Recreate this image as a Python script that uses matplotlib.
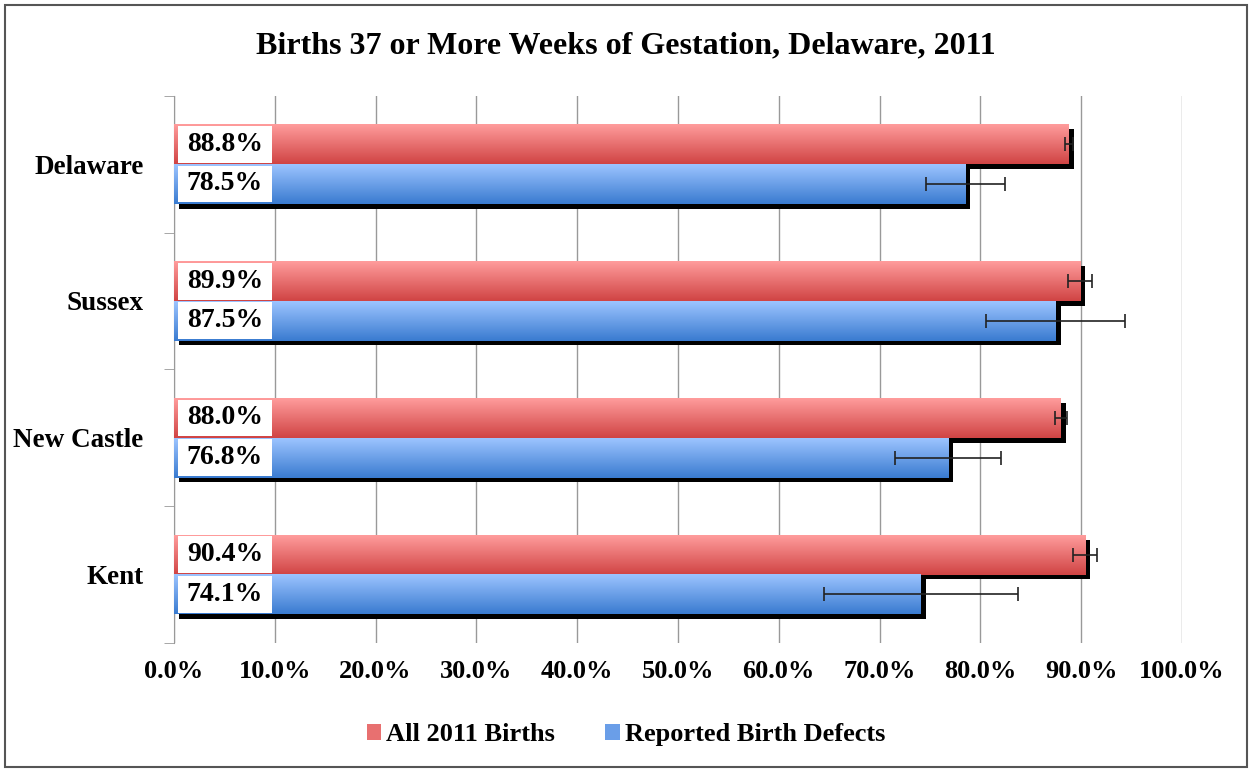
import numpy as np
import matplotlib.pyplot as plt
from matplotlib.patches import Rectangle

plt.rcParams['font.family'] = ['Liberation Serif', 'DejaVu Serif']
plt.rcParams['font.weight'] = 'bold'

# -------- data --------
regions = ['Delaware', 'Sussex', 'New Castle', 'Kent']
all_births = [88.8, 89.9, 88.0, 90.4]
all_births_err = [0.4, 1.2, 0.6, 1.2]
defects = [78.5, 87.5, 76.8, 74.1]
defects_err = [3.9, 6.9, 5.3, 9.6]
series_names = ['All 2011 Births', 'Reported Birth Defects']
x_ticks = [0, 10, 20, 30, 40, 50, 60, 70, 80, 90, 100]

red_top, red_bot = '#ff9c9c', '#d04444'
blue_top, blue_bot = '#9cc4ff', '#3a7bd0'


def gradient(c_top, c_bot, n=64):
    a = np.array(plt.matplotlib.colors.to_rgb(c_top))
    b = np.array(plt.matplotlib.colors.to_rgb(c_bot))
    t = np.linspace(0, 1, n)[:, None]
    return (a * (1 - t) + b * t)[:, None, :]


fig = plt.figure(figsize=(12.52, 7.72), dpi=100)
ax = fig.add_axes([0.139, 0.167, 0.805, 0.709])

n = len(regions)
h = 0.29  # bar height in category units
dx, dy = 0.5, 0.035  # shadow offset

for i in range(n):
    yc = n - 1 - i  # Delaware on top
    for j, (vals, errs, ct, cb) in enumerate([(all_births, all_births_err, red_top, red_bot),
                                              (defects, defects_err, blue_top, blue_bot)]):
        v = vals[i]
        y0 = yc - j * h  # red above, blue below the centre
        # shadow
        ax.add_patch(Rectangle((dx, y0 - dy), v, h, fc='black', ec='none', zorder=2))
        # gradient bar
        ax.imshow(gradient(ct, cb), extent=(0, v, y0, y0 + h), aspect='auto',
                  origin='upper', zorder=3, interpolation='bilinear')
        ax.errorbar(v, y0 + h / 2, xerr=errs[i], fmt='none', ecolor='#222222',
                    elinewidth=1.2, capsize=5, capthick=1.2, zorder=5)
        # white label box at the base of the bar
        ax.add_patch(Rectangle((0.4, y0 + 0.01), 9.3, h - 0.02, fc='white', ec='none', zorder=6))
        ax.text(5.05, y0 + h / 2, f'{v:.1f}%', fontsize=20, fontweight='bold',
                va='center', ha='center', zorder=7)

ax.set_xlim(0, 100)
ax.set_ylim(-0.5, n - 0.5)
ax.set_xticks(x_ticks)
ax.set_xticklabels([f'{t:.1f}%' for t in x_ticks], fontsize=19, fontweight='bold')
ax.set_yticks([n - 1 - i for i in range(n)])
ax.set_yticklabels(regions, fontsize=19.5, fontweight='bold')
ax.set_yticks(np.arange(-0.5, n, 1), minor=True)
ax.tick_params(axis='y', which='major', length=0, pad=22)
ax.tick_params(axis='y', which='minor', length=7, color='#999999')
ax.tick_params(axis='x', length=0, pad=12)
ax.xaxis.grid(True, color='#999999', linewidth=1)
ax.set_axisbelow(True)
for s in ['top', 'right', 'bottom']:
    ax.spines[s].set_visible(False)
ax.spines['left'].set_color('#999999')

fig.text(0.5, 0.94, 'Births 37 or More Weeks of Gestation, Delaware, 2011',
         ha='center', va='center', fontsize=23, fontweight='bold')

handles = [Rectangle((0, 0), 1, 1, fc='#e87070'), Rectangle((0, 0), 1, 1, fc='#6a9ee8')]
fig.legend(handles, series_names, loc='center', bbox_to_anchor=(0.5, 0.048), ncol=2,
           frameon=False, prop={'size': 19, 'weight': 'bold'},
           handlelength=0.55, handleheight=0.55, handletextpad=0.2, columnspacing=1.9)

fig.add_artist(Rectangle((0.004, 0.006), 0.992, 0.988, transform=fig.transFigure,
                         fill=False, ec='#555555', lw=1.5))

fig.savefig('out.png', dpi=100)
